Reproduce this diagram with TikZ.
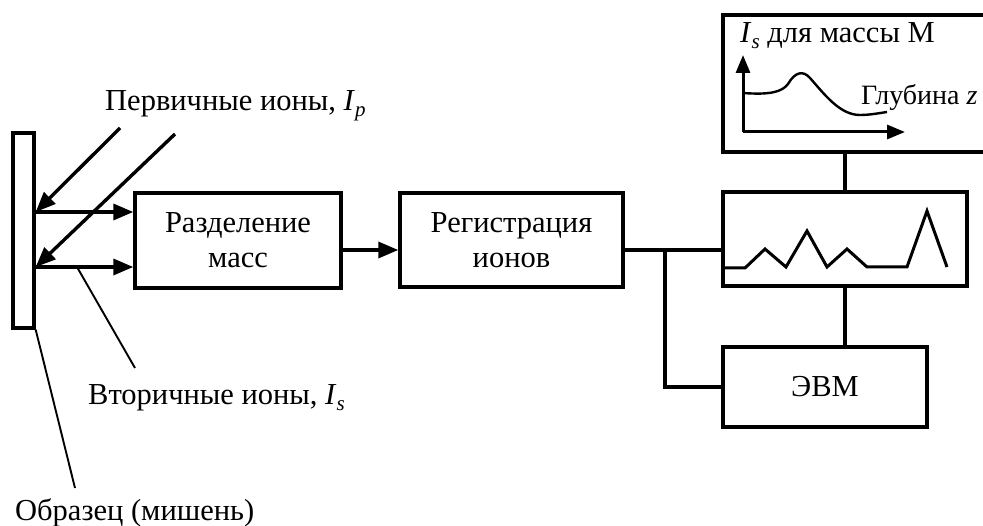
\documentclass[tikz,border=0pt]{standalone}
\usepackage{fontspec}
\setmainfont{Liberation Serif}
\usetikzlibrary{arrows.meta,calc}
\newcommand\subit[1]{\raisebox{-0.4ex}{\fontsize{21}{21}\selectfont\itshape #1}}
\tikzset{
  blk/.style={draw, line width=3.4pt, inner sep=0pt},
  con/.style={line width=3.4pt},
  arr/.style={line width=3.4pt, -{Triangle[length=20pt,width=16pt]}},
  thin/.style={line width=1.9pt},
  lbl/.style={inner sep=0pt, font=\fontsize{30.5}{35}\selectfont},
}
\begin{document}
\begin{tikzpicture}[x=1pt,y=-1pt]
\useasboundingbox (0,0) rectangle (983,526);
\clip (0,0) rectangle (983,526);
% boxes
\node[blk, minimum width=21pt, minimum height=195pt] (sample) at (23.5,230.5) {};
\node[blk, lbl, minimum width=206pt, minimum height=95pt, align=center] (sep) at (238,240.5) {Разделение\\масс};
\node[blk, lbl, minimum width=223pt, minimum height=94pt, align=center] (reg) at (511.5,240) {Регистрация\\ионов};
\node[blk, minimum width=244pt, minimum height=94pt] (spec) at (845,239) {};
\node[blk, lbl, minimum width=204pt, minimum height=80pt] (evm) at (825,387) {ЭВМ};
\node[blk, minimum width=277pt, minimum height=137pt] (top) at (861.5,83.5) {};
% labels
\node[lbl, anchor=base west] (lp) at (105,111) {Первичные ионы, \textit{I}\subit{p}};
\node[lbl, anchor=base west] (ls) at (88,405) {Вторичные ионы, \textit{I}\subit{s}};
\node[lbl, anchor=base west] (lo) at (15,520) {Образец (мишень)};
\node[lbl, anchor=base west] (lm) at (740,43) {\textit{I}\subit{s} для массы М};
\node[lbl, anchor=base west, font=\fontsize{28}{34}\selectfont] (lz) at (861,105) {Глубина \textit{z}};
% coordinates
\coordinate (h1) at (34,212);
\coordinate (h2) at (34,267);
\coordinate (p1) at (120,128);
\coordinate (p2) at (175,134);
\coordinate (j) at (665,250);
\coordinate (se) at (77,267);
\coordinate (sp) at (135,368);
\coordinate (op) at (75,488);
% primary ions
\draw[arr] (p1) -- (sample.east |- h1);
\draw[arr] (p2) -- (sample.east |- h2);
% secondary ions
\draw[arr] (sample.east |- h1) -- (sep.west |- h1);
\draw[arr] (sample.east |- h2) -- (sep.west |- h2);
% pointers
\draw[thin] (se) -- (sp);
\draw[thin] (sample.south east) -- (op);
% chain
\draw[arr] (sep.east |- j) -- (reg.west |- j);
\draw[con] (reg.east |- j) -- (spec.west |- j);
\draw[con] (j) |- (evm.west);
\draw[con] (spec.south) -- (evm.north -| spec.south);
\draw[con] (spec.north) -- (top.south -| spec.north);
% spectrum
\draw[line width=3pt, line join=miter] plot coordinates {(725,268) (745,268) (765,249) (786,267) (807,231) (827,267) (847,249) (867,267) (907,267) (927,211) (947,267)};
% depth profile
\coordinate (o) at (743,132);
\draw[line width=3pt, -{Triangle[length=18pt,width=14pt]}] (o) -- (743,55);
\draw[line width=3pt, -{Triangle[length=18pt,width=14pt]}] (o) -- (905,132);
\draw[line width=2.4pt] (743,93) .. controls (770,95) and (782,92) .. (788,84)
  .. controls (795,72) and (803,70) .. (810,78)
  .. controls (825,95) and (840,115) .. (860,115)
  .. controls (870,115) and (880,113) .. (887,112);
\end{tikzpicture}
\end{document}
